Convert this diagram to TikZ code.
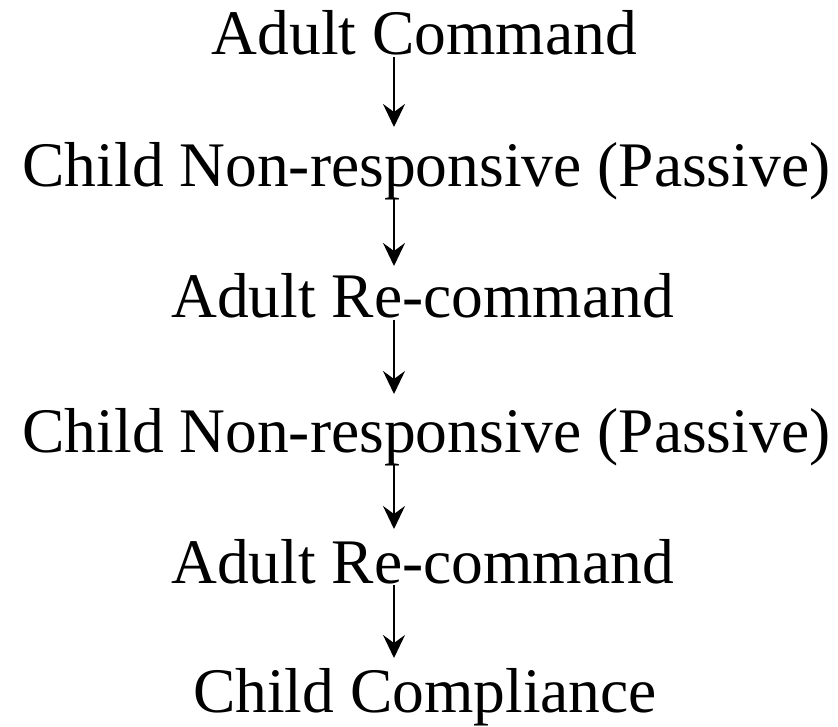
\documentclass[tikz,border=0pt]{standalone}
\usepackage{fontspec}
\setmainfont{Liberation Serif}
\usetikzlibrary{arrows.meta}
\begin{document}
\begin{tikzpicture}[x=1pt,y=1pt,
  lbl/.style={anchor=base,inner sep=0pt,font=\fontsize{63.5}{70}\selectfont},
  arr/.style={line width=2pt,-{Stealth[length=23pt,width=22pt,inset=8pt]}}]
\fill[white] (0,0) rectangle (838,-727);
\useasboundingbox (0,0) rectangle (838,-727);
\coordinate (ax) at (394,0);
\node[lbl] (n1) at (424.5,-55) {Adult Command};
\node[lbl] (n2) at (426.5,-187) {Child Non-responsive (Passive)};
\node[lbl] (n3) at (422.5,-318) {Adult Re-command};
\node[lbl] (n4) at (426.5,-452) {Child Non-responsive (Passive)};
\node[lbl] (n5) at (422.5,-583) {Adult Re-command};
\node[lbl] (n6) at (425,-712) {Child Compliance};
\draw[arr] ([yshift=-2pt]n1.base -| ax) -- ([yshift=60pt]n2.base -| ax);
\draw[arr] ([yshift=-12pt]n2.base -| ax) -- ([yshift=52pt]n3.base -| ax);
\draw[arr] ([yshift=-2pt]n3.base -| ax) -- ([yshift=58pt]n4.base -| ax);
\draw[arr] ([yshift=-12pt]n4.base -| ax) -- ([yshift=54pt]n5.base -| ax);
\draw[arr] ([yshift=-2pt]n5.base -| ax) -- ([yshift=54pt]n6.base -| ax);
\end{tikzpicture}
\end{document}
